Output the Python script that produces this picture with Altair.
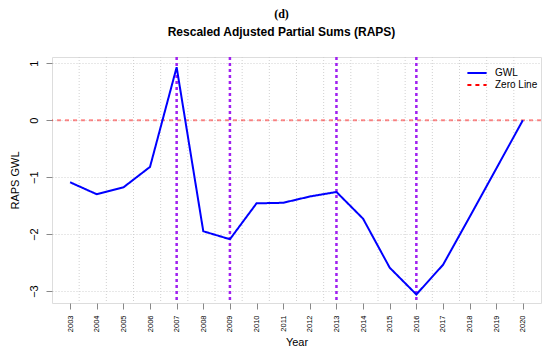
import altair as alt
import pandas as pd

years = list(range(2003, 2021))
raps = [-1.09, -1.30, -1.18, -0.82, 0.93, -1.95, -2.09, -1.46, -1.45, -1.34,
        -1.26, -1.73, -2.59, -3.06, -2.54, -1.70, -0.85, 0.00]
change_years = [2007, 2009, 2013, 2016]
zero_level = [0]
y_ticks = [-3, -2, -1, 0, 1]
grid_x = [2003.34, 2004.36, 2005.38, 2006.40, 2007.42, 2008.44, 2009.46, 2010.48,
          2011.50, 2012.52, 2013.54, 2014.56, 2015.58, 2016.60, 2017.62, 2018.64, 2019.66]
series_names = ["GWL", "Zero Line"]

line_df = pd.DataFrame({"year": years, "raps": raps, "series": "GWL"})
zero_df = pd.DataFrame({"z": zero_level, "series": "Zero Line"})
cp_df = pd.DataFrame({"year": change_years})
grid_df = pd.DataFrame({"year": grid_x})

x_scale = alt.Scale(domain=[2002.32, 2020.68], nice=False, zero=False)
y_scale = alt.Scale(domain=[-3.21, 1.11], nice=False, zero=False)

x_axis = alt.Axis(values=years, format="d", title="Year", labelAngle=270,
                  labelAlign="right", labelBaseline="middle", labelFontSize=7.5,
                  labelPadding=6, tickSize=6, grid=False, domain=False,
                  titleFontSize=11, titlePadding=5, titleFontWeight="normal")
y_axis = alt.Axis(values=y_ticks, title="RAPS GWL", labelAngle=270,
                  labelAlign="center", labelBaseline="bottom", labelFontSize=11,
                  labelPadding=7, tickSize=6, grid=True, gridDash=[1, 2],
                  gridColor="#d0d0d0", domain=False, titleFontSize=11,
                  titlePadding=8, titleFontWeight="normal")

legend_def = dict(title=None, orient="none", legendX=418, legendY=9,
                  symbolType="M-1.6,0L1.6,0", symbolSize=144, symbolStrokeWidth=2,
                  symbolOpacity=1, labelFontSize=10, rowPadding=0,
                  padding=0, labelOffset=11)

color_enc = alt.Color("series:N", scale=alt.Scale(domain=series_names, range=["#0000FF", "#FF0000"]),
                      legend=alt.Legend(**legend_def))
dash_enc = alt.StrokeDash("series:N", scale=alt.Scale(domain=series_names, range=[[1, 0], [4, 4]]),
                          legend=alt.Legend(**legend_def))

grid = alt.Chart(grid_df).mark_rule(color="#d0d0d0", strokeDash=[1, 2], strokeWidth=1).encode(
    x=alt.X("year:Q", scale=x_scale, axis=x_axis)
)

zero = alt.Chart(zero_df).mark_rule(strokeWidth=2, opacity=0.45).encode(
    y=alt.Y("z:Q", scale=y_scale, axis=y_axis),
    color=color_enc,
    strokeDash=dash_enc,
)

cps = alt.Chart(cp_df).mark_rule(color="#A020F0", strokeWidth=2.5, strokeDash=[3, 3]).encode(
    x=alt.X("year:Q", scale=x_scale, axis=x_axis)
)

line = alt.Chart(line_df).mark_line(strokeWidth=2).encode(
    x=alt.X("year:Q", scale=x_scale, axis=x_axis),
    y=alt.Y("raps:Q", scale=y_scale, axis=y_axis),
    color=color_enc,
    strokeDash=dash_enc,
)

chart = alt.layer(grid, zero, cps, line).properties(
    width=489,
    height=246,
    padding={"left": 44, "top": 49, "right": 1, "bottom": 48},
    autosize=alt.AutoSizeParams(type="none"),
    title=alt.Title("(d)", subtitle="Rescaled Adjusted Partial Sums (RAPS)",
                    font="Liberation Serif", fontSize=12, fontWeight="bold", color="black",
                    subtitleFont="Liberation Sans", subtitleFontSize=12,
                    subtitleFontWeight="bold", subtitleColor="black",
                    subtitlePadding=6, anchor="middle", dx=-15, offset=17),
).configure_view(stroke="#444444", strokeWidth=1).configure_axis(
    labelFont="Liberation Sans", titleFont="Liberation Sans",
    labelColor="#333333", titleColor="#222222", tickColor="#444444"
).configure_legend(labelFont="Liberation Sans", labelColor="#222222").configure(background="white")

chart.save("out.html", embed_options={"renderer": "svg", "actions": False})
